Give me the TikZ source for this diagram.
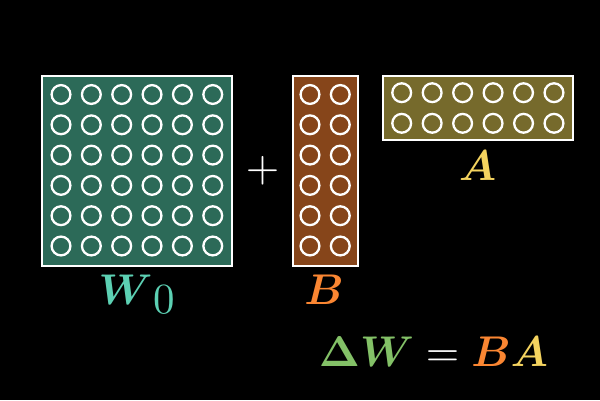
\documentclass[tikz,border=0pt]{standalone}
\usepackage{bm}
\definecolor{tealc}{RGB}{92,208,179}
\definecolor{tealfill}{RGB}{44,106,88}
\definecolor{orangec}{RGB}{250,134,50}
\definecolor{orangefill}{RGB}{134,69,26}
\definecolor{yellowc}{RGB}{244,211,95}
\definecolor{yellowfill}{RGB}{118,106,44}
\definecolor{greenc}{RGB}{131,193,103}
\tikzset{
  mat/.style={draw=white, line width=2.2pt},
  cell/.style={draw=white, line width=2.3pt},
  lab/.style={scale=4.3, anchor=base}
}
\begin{document}
\begin{tikzpicture}[x=1pt,y=-1pt]
\fill[black] (0,0) rectangle (600,400);
\useasboundingbox (0,0) rectangle (600,400);
% W0
\draw[mat, fill=tealfill] (42,76) rectangle (232,266);
\foreach \i in {0,...,5}{\foreach \j in {0,...,5}{
  \draw[cell] (61+30.35*\i, 94.5+30.3*\j) circle (9.4);
}}
% B
\draw[mat, fill=orangefill] (293,76) rectangle (358,266);
\foreach \i in {0,1}{\foreach \j in {0,...,5}{
  \draw[cell] (310+30.3*\i, 94.5+30.3*\j) circle (9.4);
}}
% A
\draw[mat, fill=yellowfill] (383,76) rectangle (573,140);
\foreach \i in {0,...,5}{\foreach \j in {0,1}{
  \draw[cell] (401.7+30.46*\i, 92.7+30.6*\j) circle (9.4);
}}
% plus
\node[white, scale=4.3] (plus) at (262.7,170.7) {$+$};
% labels
\node[lab, text=tealc] (wlab) at (137,304) {$\bm{W}$\hspace{0.3pt}\raisebox{-2.1pt}{0}};
\node[lab, text=orangec] (blab) at (324,304) {$\bm{B}$};
\node[lab, text=yellowc] (alab) at (477.5,180) {$\bm{A}$};
\node[lab] (eq) at (433.5,366.5) {$\color{greenc}\bm{\Delta}\bm{W}\color{white}=\color{orangec}\bm{B}\color{yellowc}\bm{A}$};
\end{tikzpicture}
\end{document}
